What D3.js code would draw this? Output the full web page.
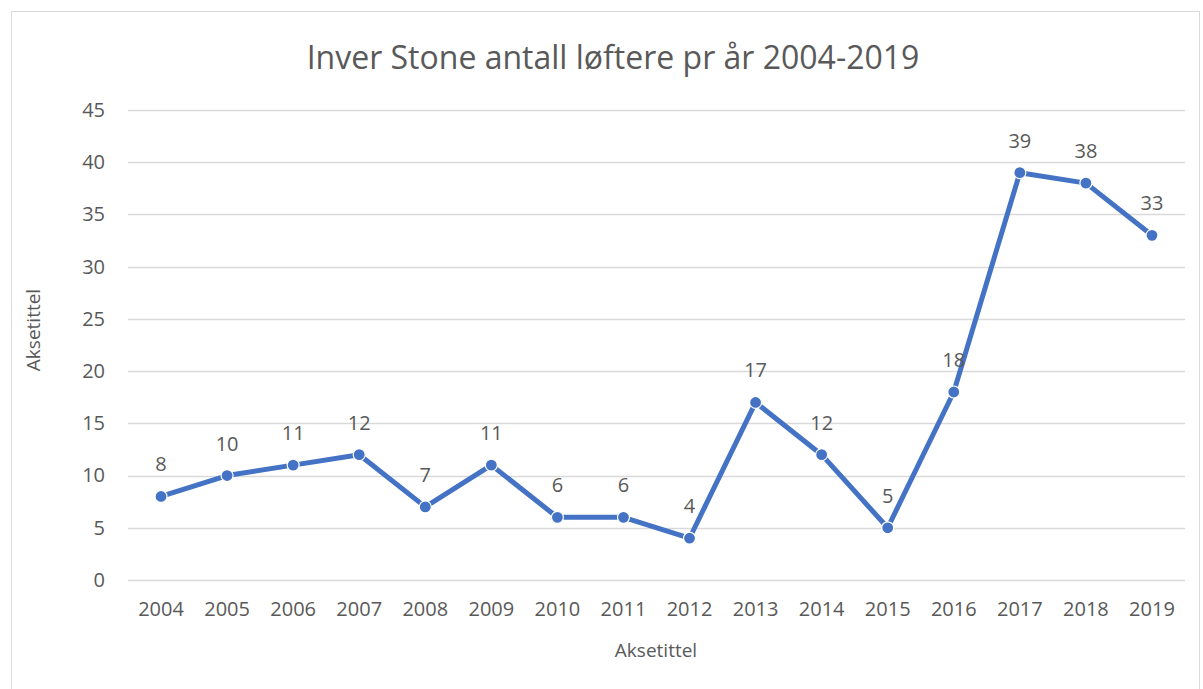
<!DOCTYPE html>
<html>
<head>
<meta charset="utf-8">
<script src="https://cdn.jsdelivr.net/npm/d3@7"></script>
<style>
  body { margin: 0; background: #fff; }
  text { font-family: "Open Sans", "Liberation Sans", sans-serif; fill: #595959; }
</style>
</head>
<body>
<div id="chart"></div>
<script>
var years = ["2004", "2005", "2006", "2007", "2008", "2009", "2010", "2011",
             "2012", "2013", "2014", "2015", "2016", "2017", "2018", "2019"];
var lifters = [8, 10, 11, 12, 7, 11, 6, 6, 4, 17, 12, 5, 18, 39, 38, 33];
var yTicks = [0, 5, 10, 15, 20, 25, 30, 35, 40, 45];
var chartTitle = "Inver Stone antall løftere pr år 2004-2019";
var xTitle = "Aksetittel";
var yTitle = "Aksetittel";

var width = 1203, height = 689;
var plotLeft = 128, plotRight = 1185, plotTop = 110, plotBottom = 580;

var svg = d3.select("#chart").append("svg")
    .attr("width", width)
    .attr("height", height);

// chart frame
svg.append("rect")
    .attr("x", 11.5).attr("y", 11.5)
    .attr("width", 1188).attr("height", 690)
    .style("fill", "none")
    .style("stroke", "#d9d9d9")
    .style("stroke-width", 1);

var x = d3.scaleBand().domain(years).range([plotLeft, plotRight]);
var y = d3.scaleLinear().domain([0, 45]).range([plotBottom, plotTop]);

// gridlines
svg.selectAll(".grid")
    .data(yTicks)
    .enter().append("line")
    .attr("x1", plotLeft).attr("x2", plotRight)
    .attr("y1", function (d) { return Math.round(y(d)) + 0.5; })
    .attr("y2", function (d) { return Math.round(y(d)) + 0.5; })
    .style("stroke", "#d9d9d9")
    .style("stroke-width", 1.5);

// y axis labels
var yAxis = d3.axisLeft(y).tickValues(yTicks).tickSize(0).tickPadding(0);
var gy = svg.append("g").attr("transform", "translate(" + (plotLeft - 23) + ",0)").call(yAxis);
gy.select(".domain").remove();
gy.selectAll("text").style("font-size", "20px").style("fill", "#595959").attr("font-family", null);

// x axis labels
var xAxis = d3.axisBottom(x).tickSize(0).tickPadding(0);
var gx = svg.append("g").attr("transform", "translate(0," + (plotBottom + 22) + ")").call(xAxis);
gx.select(".domain").remove();
gx.selectAll("text").style("font-size", "20px").style("fill", "#595959").attr("font-family", null);

// line
var line = d3.line()
    .x(function (d, i) { return x(years[i]) + x.bandwidth() / 2; })
    .y(function (d) { return y(d); });

svg.append("path")
    .datum(lifters)
    .attr("d", line)
    .style("fill", "none")
    .style("stroke", "#4472c4")
    .style("stroke-width", 5)
    .style("stroke-linejoin", "round");

svg.selectAll(".dot")
    .data(lifters)
    .enter().append("circle")
    .attr("cx", function (d, i) { return x(years[i]) + x.bandwidth() / 2; })
    .attr("cy", function (d) { return y(d); })
    .attr("r", 6)
    .style("fill", "#4472c4")
    .style("stroke", "#fff")
    .style("stroke-width", 1.2);

svg.selectAll(".lbl")
    .data(lifters)
    .enter().append("text")
    .attr("x", function (d, i) { return x(years[i]) + x.bandwidth() / 2; })
    .attr("y", function (d) { return y(d) - 25; })
    .attr("text-anchor", "middle")
    .style("font-size", "20px")
    .text(function (d) { return d; });

// titles
svg.append("text")
    .attr("x", 613).attr("y", 69)
    .attr("text-anchor", "middle")
    .style("font-size", "32px")
    .text(chartTitle);

svg.append("text")
    .attr("x", 656).attr("y", 657)
    .attr("text-anchor", "middle")
    .style("font-size", "19px")
    .text(xTitle);

svg.append("text")
    .attr("transform", "translate(40,330) rotate(-90)")
    .attr("text-anchor", "middle")
    .style("font-size", "19px")
    .text(yTitle);
</script>
</body>
</html>
